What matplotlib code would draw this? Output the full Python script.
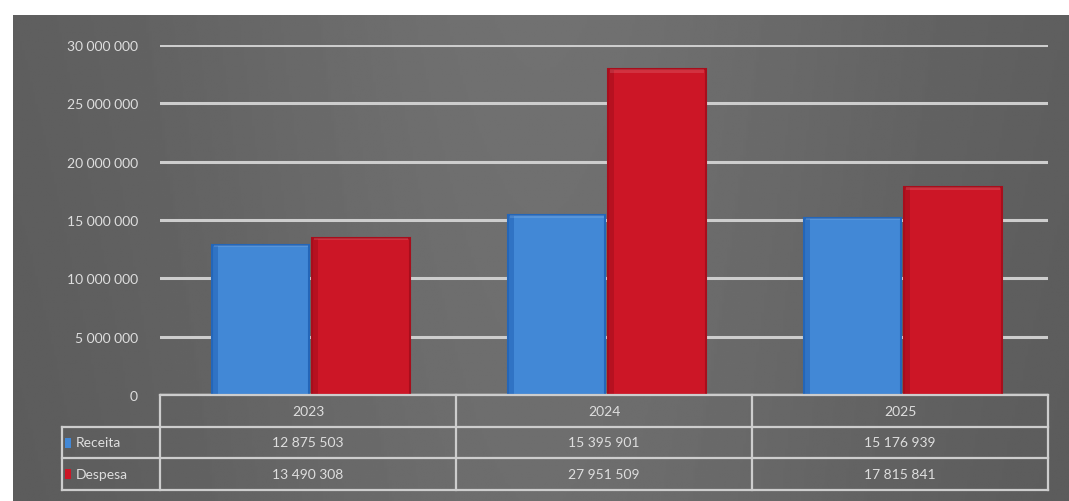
import matplotlib
matplotlib.use("Agg")
import matplotlib.pyplot as plt
import numpy as np
from matplotlib.patches import Rectangle
import matplotlib.transforms as mtransforms

years = ["2023", "2024", "2025"]
series_names = ["Receita", "Despesa"]
receita = [12875503, 15395901, 15176939]
despesa = [13490308, 27951509, 17815841]
yticks = [0, 5000000, 10000000, 15000000, 20000000, 25000000, 30000000]

blue = "#4288d6"
blue_edge = "#2466b8"
red = "#cc1626"
red_edge = "#a80e1c"
txt = "#dedede"
linec = "#cdcdcd"
FONT = ["Liberation Sans Narrow", "Lato", "DejaVu Sans"]
FS = 10

def fmt(v):
    return f"{v:,}".replace(",", " ")

W, H = 1069, 502
fig = plt.figure(figsize=(W/100, H/100), dpi=100)
fig.patch.set_facecolor("white")

# dark panel with horizontal gradient
bg = fig.add_axes([13/W, 0, 1 - 13/W, (H-16)/H])
xs = np.linspace(0, 1, 400)
grad = 0.35 + 0.08*np.exp(-((xs-0.5)/0.35)**2)
ys = np.linspace(0, 1, 200)
vg = 1.0 + 0.03*ys
img = np.clip(np.outer(vg, grad), 0, 1)
bg.imshow(img, aspect="auto", cmap="gray", vmin=0, vmax=1, origin="lower",
          extent=[0, 1, 0, 1])
bg.set_axis_off()

left, right = 160, 1048
bottom, top = 396, 46
ax = fig.add_axes([left/W, (H-bottom)/H, (right-left)/W, (bottom-top)/H])
ax.set_facecolor("none")
ax.set_xlim(-0.5, 2.5)
ax.set_ylim(0, 30000000)
for s in ax.spines.values():
    s.set_visible(False)
ax.set_yticks(yticks)
ax.set_yticklabels([fmt(v) for v in yticks], color=txt, fontsize=FS,
                   family=FONT)
ax.tick_params(axis="y", length=0, pad=16)
ax.set_xticks([])
for v in yticks[1:]:
    ax.axhline(v, color=linec, lw=2.2, zorder=1)
ax.axhline(0, color=linec, lw=2.5, zorder=1)

x = np.arange(len(years))
bw = 0.33
gap = 0.005
for xi, rv, dv in zip(x, receita, despesa):
    for cx, val, fc, ec in [(xi - bw/2 - gap + 0.01, rv, blue, blue_edge),
                            (xi + bw/2 + gap + 0.01, dv, red, red_edge)]:
        ax.bar(cx, val, width=bw, color=fc, edgecolor=ec, lw=1.5, zorder=3)
        # darker left strip for 3D look
        ax.bar(cx - bw/2 + bw*0.03, val, width=bw*0.06, color=ec, lw=0,
               alpha=0.6, zorder=4)
        # subtle highlight on top
        ax.bar(cx, val*0.012, bottom=val*0.988, width=bw*0.96,
               color="white", alpha=0.12, lw=0, zorder=4)

# table below axes
trans = mtransforms.blended_transform_factory(ax.transData, fig.transFigure)
def fy(py):
    return (H - py)/H

row_y = [396, 428, 459, 491]
col_x = [-0.5, 0.5, 1.5, 2.5]
lab_left_px = 62
lab_left = (lab_left_px - left)/(right-left)*3 - 0.5

lw = 1.6
fig.add_artist(plt.Line2D([-0.5, 2.5], [fy(row_y[0])]*2, transform=trans, color=linec, lw=lw))
for py in row_y[1:]:
    fig.add_artist(plt.Line2D([lab_left, 2.5], [fy(py)]*2, transform=trans, color=linec, lw=lw))
for cxv in col_x:
    fig.add_artist(plt.Line2D([cxv, cxv], [fy(row_y[0]), fy(row_y[3])], transform=trans, color=linec, lw=lw))
fig.add_artist(plt.Line2D([lab_left, lab_left], [fy(row_y[1]), fy(row_y[3])], transform=trans, color=linec, lw=lw))

for xi, yr in zip(x, years):
    fig.text(xi, fy((row_y[0]+row_y[1])/2), yr, transform=trans, ha="center",
             va="center", color=txt, fontsize=FS, family=FONT)
for r, (name, vals, c) in enumerate([(series_names[0], receita, blue),
                                      (series_names[1], despesa, red)]):
    yc = fy((row_y[r+1]+row_y[r+2])/2)
    sw_x = lab_left + 0.01
    fig.add_artist(Rectangle((sw_x, yc - 5/H), 0.022, 10/H, transform=trans,
                             facecolor=c, edgecolor="none"))
    fig.text(lab_left + 0.045, yc, name, transform=trans, ha="left", va="center",
             color=txt, fontsize=FS, family=FONT)
    for xi, v in zip(x, vals):
        fig.text(xi, yc, fmt(v), transform=trans, ha="center", va="center",
                 color=txt, fontsize=FS, family=FONT)

fig.savefig("out.png", dpi=100, facecolor=fig.get_facecolor())
